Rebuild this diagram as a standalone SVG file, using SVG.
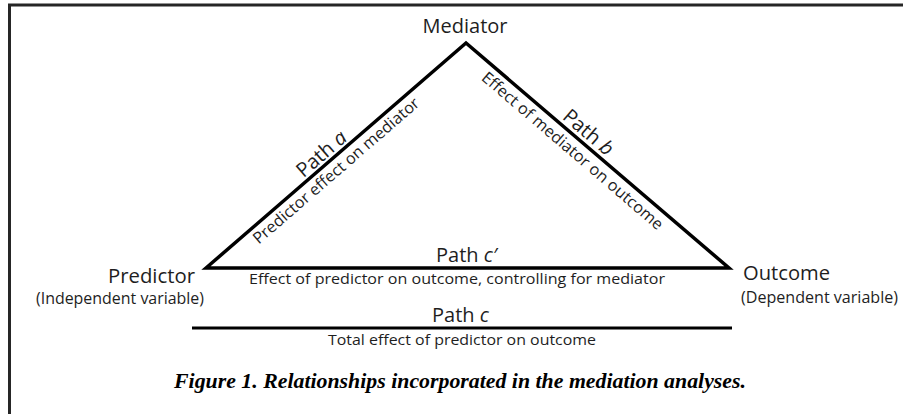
<svg xmlns="http://www.w3.org/2000/svg" width="903" height="414" viewBox="0 0 903 414">
  <style>
    .lbl { font-family: "Open Sans", "Liberation Sans", sans-serif; fill: #1e1e1e; }
    .big { font-size: 20px; }
    .mid { font-size: 16px; }
    .sm { font-size: 15px; }
    .it { font-style: italic; }
    .edge { fill: none; stroke: #000; stroke-width: 3.5; stroke-linejoin: miter; }
    .cap { font-family: "Liberation Serif", "Times New Roman", serif; font-size: 22px; font-weight: bold; font-style: italic; fill: #000; }
  </style>
  <rect x="0" y="0" width="903" height="414" fill="#fff"/>
  <path d="M9.5,414 V5 H903" fill="none" stroke="#262626" stroke-width="3"/>

  <g id="connectors">
    <polygon class="edge" points="206,268 466,43 729,268"/>
    <line x1="192" y1="328" x2="732" y2="328" stroke="#000" stroke-width="3"/>
  </g>

  <g id="edge-labels">
    <g transform="translate(328.5,162) rotate(-40.87)">
      <text class="lbl big" x="0" y="-4" text-anchor="middle">Path <tspan class="it">a</tspan></text>
      <text class="lbl mid" x="0" y="17" text-anchor="middle" textLength="214" lengthAdjust="spacingAndGlyphs">Predictor effect on mediator</text>
    </g>
    <g transform="translate(580.7,141.2) rotate(40.55)">
      <text class="lbl big" x="0" y="-5" text-anchor="middle">Path <tspan class="it">b</tspan></text>
      <text class="lbl mid" x="0" y="18" text-anchor="middle" textLength="233" lengthAdjust="spacingAndGlyphs">Effect of mediator on outcome</text>
    </g>
    <text class="lbl big" x="436" y="262">Path <tspan class="it">c′</tspan></text>
    <text class="lbl sm" x="249" y="283.5" textLength="416" lengthAdjust="spacingAndGlyphs">Effect of predictor on outcome, controlling for mediator</text>
    <text class="lbl big" x="432" y="322">Path <tspan class="it">c</tspan></text>
    <text class="lbl sm" x="328" y="345" textLength="268" lengthAdjust="spacingAndGlyphs">Total effect of predictor on outcome</text>
  </g>

  <g id="node-mediator">
    <text class="lbl big" x="465" y="33" text-anchor="middle">Mediator</text>
  </g>
  <g id="node-predictor">
    <text class="lbl big" x="108" y="283" textLength="87" lengthAdjust="spacingAndGlyphs">Predictor</text>
    <text class="lbl mid" x="36" y="304" textLength="168" lengthAdjust="spacingAndGlyphs">(Independent variable)</text>
  </g>
  <g id="node-outcome">
    <text class="lbl big" x="743" y="280" textLength="87" lengthAdjust="spacingAndGlyphs">Outcome</text>
    <text class="lbl mid" x="741" y="303" textLength="157" lengthAdjust="spacingAndGlyphs">(Dependent variable)</text>
  </g>

  <g id="caption">
    <text class="cap" x="174" y="388" textLength="572" lengthAdjust="spacingAndGlyphs">Figure 1. Relationships incorporated in the mediation analyses.</text>
  </g>
</svg>
